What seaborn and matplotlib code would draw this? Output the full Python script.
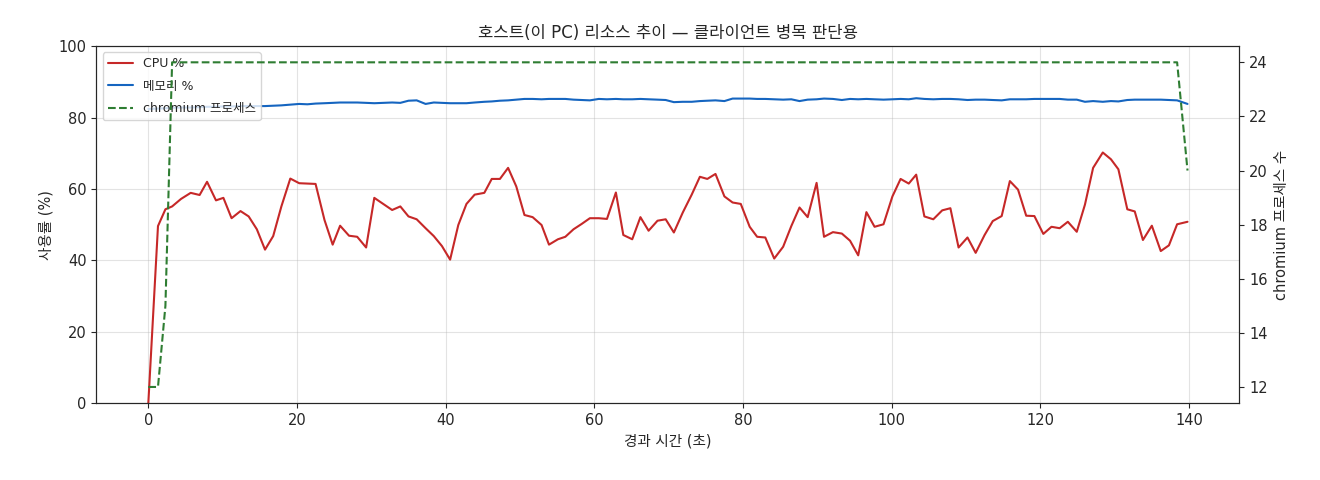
import pandas as pd
import seaborn as sns
import matplotlib.pyplot as plt

# 호스트 리소스 샘플 (경과 시간 초)
elapsed = [0.0, 1.3, 2.3, 3.2, 4.4, 5.7, 6.9, 7.9, 9.1, 10.1,
           11.2, 12.4, 13.5, 14.6, 15.7, 16.8, 17.9, 19.1, 20.3, 21.4,
           22.5, 23.7, 24.8, 25.8, 27.0, 28.1, 29.3, 30.4, 31.6, 32.8,
           33.9, 35.0, 36.1, 37.3, 38.4, 39.5, 40.6, 41.7, 42.8, 43.9,
           45.2, 46.2, 47.3, 48.4, 49.5, 50.6, 51.7, 52.9, 53.9, 55.1,
           56.1, 57.2, 58.3, 59.4, 60.6, 61.7, 62.9, 63.9, 65.1, 66.2,
           67.3, 68.5, 69.6, 70.7, 71.9, 73.1, 74.2, 75.2, 76.3, 77.5,
           78.6, 79.7, 80.9, 81.9, 83.0, 84.2, 85.4, 86.5, 87.6, 88.7,
           89.9, 90.9, 92.1, 93.3, 94.4, 95.5, 96.6, 97.7, 98.9, 100.1,
           101.2, 102.3, 103.3, 104.4, 105.6, 106.8, 107.9, 109.0, 110.2, 111.3,
           112.5, 113.6, 114.8, 115.9, 117.0, 118.1, 119.2, 120.4, 121.5, 122.6,
           123.7, 124.9, 126.0, 127.1, 128.4, 129.5, 130.5, 131.7, 132.7, 133.8,
           135.0, 136.2, 137.3, 138.4, 139.8]

cpu = [0.0, 49.6, 54.3, 55.1, 57.2, 58.9, 58.3, 62.0, 56.8, 57.5,
       51.8, 53.8, 52.3, 48.7, 43.0, 46.8, 55.1, 62.9, 61.6, 61.5,
       61.4, 51.3, 44.4, 49.7, 46.9, 46.6, 43.6, 57.5, 55.8, 54.1,
       55.1, 52.3, 51.5, 49.0, 46.8, 44.0, 40.2, 49.9, 55.8, 58.4,
       58.9, 62.8, 62.8, 65.9, 60.7, 52.7, 52.1, 49.9, 44.4, 45.9,
       46.6, 48.7, 50.2, 51.8, 51.8, 51.6, 59.0, 47.1, 45.9, 52.1,
       48.3, 51.1, 51.5, 47.8, 53.4, 58.4, 63.4, 62.8, 64.2, 57.9,
       56.2, 55.8, 49.4, 46.6, 46.4, 40.5, 43.8, 49.6, 54.8, 52.1,
       61.7, 46.6, 47.9, 47.5, 45.5, 41.4, 53.5, 49.4, 50.1, 57.9,
       62.8, 61.5, 64.0, 52.3, 51.5, 54.0, 54.6, 43.6, 46.4, 42.1,
       47.1, 51.0, 52.4, 62.2, 59.8, 52.5, 52.4, 47.4, 49.4, 49.0,
       50.8, 48.0, 55.6, 65.9, 70.2, 68.3, 65.5, 54.3, 53.7, 45.7,
       49.7, 42.6, 44.2, 50.1, 50.8]

mem = [82.4, 82.5, 82.6, 82.7, 82.8, 82.8, 82.9, 83.0, 83.0, 83.1,
       83.1, 83.2, 83.2, 83.2, 83.2, 83.3, 83.4, 83.6, 83.8, 83.7,
       83.9, 84.0, 84.1, 84.2, 84.2, 84.2, 84.1, 84.0, 84.1, 84.2,
       84.1, 84.7, 84.8, 83.8, 84.2, 84.1, 84.0, 84.0, 84.0, 84.2,
       84.4, 84.5, 84.7, 84.8, 85.0, 85.2, 85.2, 85.1, 85.2, 85.2,
       85.2, 85.0, 84.9, 84.8, 85.2, 85.1, 85.2, 85.1, 85.1, 85.2,
       85.1, 85.0, 84.9, 84.3, 84.4, 84.4, 84.6, 84.7, 84.8, 84.6,
       85.3, 85.3, 85.3, 85.2, 85.2, 85.1, 85.0, 85.1, 84.6, 85.0,
       85.1, 85.3, 85.2, 84.9, 85.2, 85.1, 85.2, 85.1, 85.0, 85.1,
       85.2, 85.1, 85.4, 85.2, 85.1, 85.2, 85.2, 85.1, 84.9, 85.0,
       85.0, 84.9, 84.8, 85.1, 85.1, 85.1, 85.2, 85.2, 85.2, 85.2,
       85.0, 85.0, 84.4, 84.6, 84.4, 84.6, 84.5, 84.9, 85.0, 85.0,
       85.0, 85.0, 84.9, 84.8, 83.8]

procs = [12, 12, 15] + [24] * 120 + [24, 20]

df = pd.DataFrame({'t': elapsed, 'cpu': cpu, 'mem': mem, 'procs': procs})

sns.set_style('ticks')
plt.rcParams['font.family'] = ['DejaVu Sans', 'Noto Sans CJK KR']
plt.rcParams['axes.unicode_minus'] = False

fig, ax1 = plt.subplots(figsize=(13.2, 4.8), dpi=100)
fig.subplots_adjust(left=0.073, right=0.939, bottom=0.16, top=0.904)

sns.lineplot(data=df, x='t', y='cpu', ax=ax1, color='#c62828', lw=1.5, label='CPU %')
sns.lineplot(data=df, x='t', y='mem', ax=ax1, color='#1565c0', lw=1.5, label='메모리 %')
ax1.set_ylim(0, 100)
ax1.set_xlabel('경과 시간 (초)', fontsize=10.5)
ax1.set_ylabel('사용률 (%)', fontsize=10.5)
ax1.grid(True, color='#b0b0b0', alpha=0.35)
ax1.tick_params(labelsize=10.5)

ax2 = ax1.twinx()
sns.lineplot(data=df, x='t', y='procs', ax=ax2, color='#2e7d32', lw=1.5,
             linestyle='--', label='chromium 프로세스', legend=False)
ax2.set_ylabel('chromium 프로세스 수', fontsize=10.5)
ax2.tick_params(labelsize=10.5)

h1, l1 = ax1.get_legend_handles_labels()
h2, l2 = ax2.get_legend_handles_labels()
ax1.legend(h1 + h2, l1 + l2, loc='upper left', fontsize=9, labelspacing=0.75)

ax1.set_title('호스트(이 PC) 리소스 추이 — 클라이언트 병목 판단용', fontsize=12)

plt.savefig('out.png')
